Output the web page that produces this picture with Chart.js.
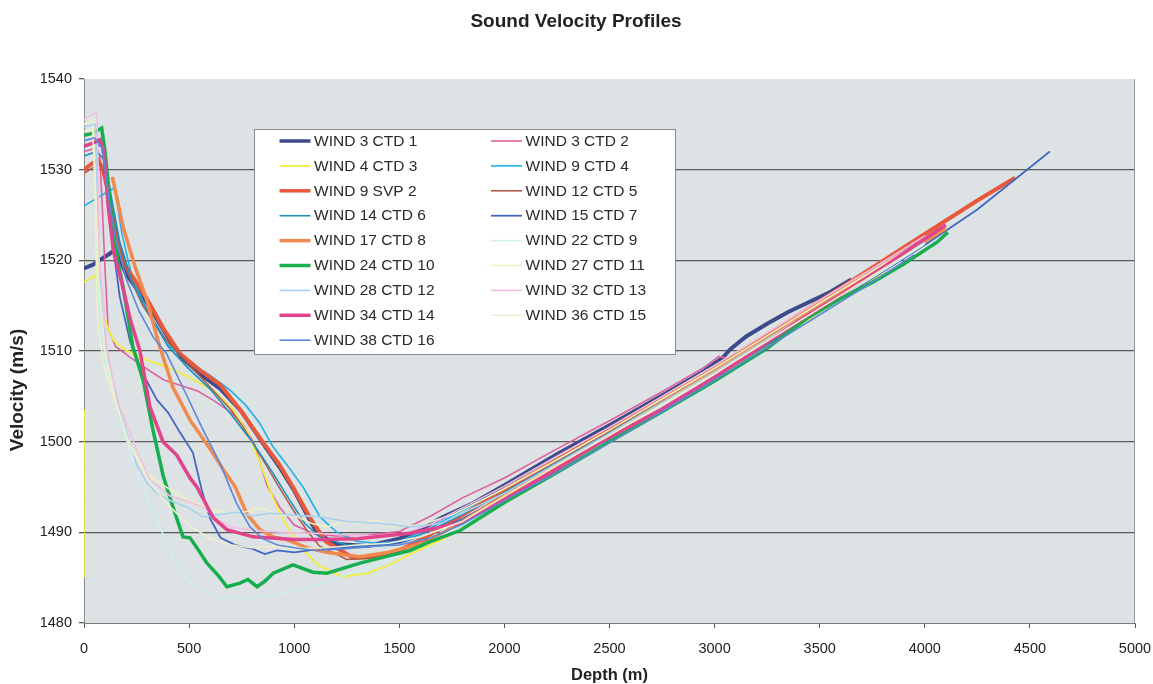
<!DOCTYPE html>
<html><head><meta charset="utf-8">
<script src="https://cdn.jsdelivr.net/npm/chart.js@4.4.1/dist/chart.umd.min.js"></script>
<style>html,body{margin:0;padding:0;background:#fff;} #wrap{position:relative;width:1153px;height:684px;}</style>
</head><body><div id="wrap"><canvas id="c" width="1153" height="684"></canvas></div>
<script>
// ---- data: [depth (m), velocity (m/s)] ----
const chartTitle = 'Sound Velocity Profiles';
const seriesLabels = ['WIND 3 CTD 1','WIND 3 CTD 2','WIND 4 CTD 3','WIND 9 CTD 4','WIND 9 SVP 2','WIND 12 CTD 5','WIND 14 CTD 6','WIND 15 CTD 7','WIND 17 CTD 8','WIND 22 CTD 9','WIND 24 CTD 10','WIND 27 CTD 11','WIND 28 CTD 12','WIND 32 CTD 13','WIND 34 CTD 14','WIND 36 CTD 15','WIND 38 CTD 16'];
const depthTicks = [0,500,1000,1500,2000,2500,3000,3500,4000,4500,5000];
const velocityTicks = [1480,1490,1500,1510,1520,1530,1540];

const w3c1 = [[0,1519.1],[40,1519.5],[80,1520.1],[120,1520.7],[150,1521.2],[200,1518.5],[300,1515.3],[400,1511.5],[460,1509.4],[550,1507.5],[650,1505.8],[750,1503.3],[840,1500.2],[930,1497.2],[1000,1494.6],[1075,1491.3],[1110,1489.9],[1200,1488.7],[1350,1488.5],[1500,1489.3],[1600,1490.3],[1700,1491.6],[1850,1493.2],[2000,1495.2],[2250,1498.6],[2500,1501.8],[2750,1505.1],[2950,1507.8],[3040,1509.3],[3075,1510.2],[3150,1511.6],[3250,1513.0],[3350,1514.3],[3450,1515.4],[3550,1516.5],[3650,1517.9]];
const w3c2 = [[0,1532.0],[60,1532.4],[75,1531.5],[85,1527],[100,1519],[115,1512.5],[150,1510.5],[220,1509.3],[300,1508.0],[380,1506.8],[460,1506.2],[540,1505.6],[620,1504.5],[700,1503.2],[760,1501.8],[810,1499.8],[870,1495.2],[930,1492.8],[1000,1490.8],[1100,1489.8],[1200,1489.6],[1350,1489.7],[1500,1490.1],[1650,1491.8],[1800,1493.8],[2000,1496.0],[2250,1499.2],[2500,1502.3],[2750,1505.5],[2950,1508.2],[3020,1509.4],[3060,1509.2],[3250,1511.6],[3500,1515.2],[3750,1518.8],[4000,1522.5]];
const w4c3 = [[0,1485],[0,1503.5],[0,null],[0,1517.6],[50,1518.3],[65,1517.5],[80,1515.3],[110,1512.8],[140,1511.2],[190,1510.2],[300,1509.0],[400,1508.2],[500,1507.1],[620,1505.6],[700,1503.8],[780,1501.0],[840,1497.5],[900,1493.8],[950,1491.3],[1030,1488.3],[1120,1486.3],[1230,1485.1],[1350,1485.5],[1450,1486.4],[1550,1487.6],[1700,1489.2],[1850,1491.0],[2000,1493.2],[2250,1496.6],[2500,1500.0],[2750,1503.5],[3000,1506.9],[3250,1510.5],[3500,1514.3],[3800,1518.6]];
const w9c4 = [[0,1526.0],[50,1526.7],[100,1527.4],[147,1528.0],[180,1523.0],[230,1518.0],[300,1514.5],[409,1510.5],[500,1508.8],[600,1507.3],[694,1505.7],[770,1504.0],[837,1502.0],[900,1499.4],[970,1497.3],[1042,1495.0],[1123,1491.7],[1203,1490.0],[1300,1489.0],[1400,1488.8],[1500,1489.0],[1650,1490.5],[1800,1492.4],[2000,1494.6],[2250,1497.9],[2500,1501.1],[2750,1504.5],[3000,1507.9],[3250,1511.4],[3500,1515.0],[3750,1518.5],[4000,1522.0]];
const w9s2 = [[0,1530.0],[40,1530.7],[67,1531.1],[90,1530.0],[120,1527.0],[150,1523.0],[200,1519.3],[298,1515.8],[380,1512.4],[457,1509.7],[550,1507.9],[647,1506.3],[740,1503.6],[837,1500.4],[932,1497.4],[994,1495.0],[1075,1491.6],[1150,1489.0],[1280,1487.2],[1400,1487.3],[1500,1488.0],[1650,1489.8],[1800,1491.9],[2000,1494.7],[2250,1498.0],[2500,1501.3],[2750,1504.8],[3000,1508.2],[3250,1511.8],[3500,1515.5],[3750,1519.2],[4000,1522.9],[4250,1526.6],[4430,1529.1]];
const w12c5 = [[0,1529.6],[40,1530.2],[80,1530.6],[110,1528.5],[150,1523.5],[200,1519.0],[280,1515.0],[380,1511.5],[480,1509.0],[600,1506.0],[700,1503.5],[760,1501.5],[852,1498.0],[920,1495.3],[994,1492.5],[1060,1490.2],[1120,1488.5],[1250,1487.0],[1400,1487.2],[1550,1488.3],[1700,1489.9],[2000,1494.2],[2250,1497.5],[2500,1500.8],[2750,1504.2],[3000,1507.6],[3250,1511.2],[3500,1514.8],[3750,1518.3],[4000,1521.9]];
const w14c6 = [[0,1531.5],[60,1532.0],[100,1531.0],[130,1527.0],[170,1522.0],[230,1517.5],[300,1514.5],[400,1510.5],[500,1508.0],[600,1505.8],[700,1503.0],[800,1500.0],[900,1496.5],[980,1493.5],[1050,1491.0],[1120,1489.5],[1250,1488.6],[1400,1488.5],[1500,1488.9],[1650,1490.2],[1800,1492.0],[2000,1494.4],[2250,1497.7],[2500,1501.0],[2750,1504.4],[3000,1507.8],[3250,1511.3],[3500,1514.9],[3750,1518.4],[4100,1523.4]];
const w15c7 = [[0,1532.5],[50,1533.0],[85,1532.5],[105,1529.0],[130,1523.0],[170,1516.0],[220,1511.0],[280,1507.5],[347,1504.6],[400,1503.2],[457,1501.0],[518,1498.8],[560,1494.7],[600,1491.5],[650,1489.4],[720,1488.6],[800,1488.2],[860,1487.6],[918,1488.0],[1000,1487.8],[1100,1488.1],[1250,1488.3],[1400,1488.6],[1500,1488.8],[1650,1489.9],[1800,1491.5],[2000,1493.9],[2250,1497.1],[2500,1500.3],[2750,1503.7],[3000,1507.1],[3250,1510.7],[3500,1514.4],[3750,1518.0],[4000,1521.7],[4250,1525.6],[4595,1532.0]];
const w17c8 = [[135,1529.2],[186,1523.7],[240,1519.5],[300,1515.5],[360,1510.5],[423,1506.0],[504,1502.4],[600,1499.2],[661,1497.0],[720,1495.0],[775,1492.0],[837,1490.3],[900,1489.5],[965,1489.2],[1050,1488.4],[1150,1487.8],[1313,1487.3],[1450,1487.8],[1632,1488.9],[1800,1491.2],[2000,1494.0],[2250,1497.4],[2500,1500.8],[2750,1504.3],[3000,1507.8],[3250,1511.4],[3500,1515.0],[3750,1518.6],[3882,1520.4],[4100,1523.5]];
const w22c9 = [[0,1535.0],[40,1535.4],[50,1530],[60,1521],[80,1512],[120,1507],[171,1502.7],[250,1496.5],[361,1490.6],[430,1486.8],[504,1484.4],[580,1483.4],[647,1482.9],[760,1482.8],[870,1482.9],[980,1483.4],[1089,1484.0],[1230,1485.2],[1375,1486.2],[1500,1487.4],[1650,1489.0],[1800,1490.8],[2000,1493.6],[2250,1497.0],[2500,1500.4],[2750,1503.9],[3000,1507.4],[3250,1511.0],[3500,1514.6],[3750,1518.1],[4000,1521.8]];
const w24c10 = [[0,1533.8],[40,1534.0],[84,1534.6],[100,1532.0],[130,1525.0],[160,1520.0],[186,1517.0],[233,1510.4],[281,1506.8],[328,1501.3],[376,1496.3],[423,1492.8],[471,1489.5],[504,1489.4],[540,1488.2],[585,1486.6],[640,1485.2],[680,1484.0],[742,1484.4],[780,1484.8],[823,1484.0],[860,1484.6],[900,1485.5],[994,1486.4],[1089,1485.6],[1156,1485.5],[1313,1486.6],[1450,1487.4],[1551,1488.0],[1650,1489.0],[1789,1490.2],[2000,1493.3],[2250,1496.6],[2500,1500.0],[2750,1503.3],[3000,1506.7],[3250,1510.3],[3439,1513.6],[3600,1515.8],[3753,1517.6],[3900,1519.6],[4058,1522.0],[4110,1523.1]];
const w27c11 = [[0,1535.0],[45,1535.5],[52,1531],[56,1522],[65,1513],[90,1509],[120,1506.2],[157,1503.8],[233,1499.1],[300,1496.5],[376,1495.2],[490,1493.6],[615,1492.5],[700,1492.0],[775,1492.3],[850,1492.7],[930,1491.8],[1000,1491.9],[1080,1491.0],[1156,1490.6],[1230,1491.2],[1313,1491.0],[1400,1491.3],[1470,1490.6],[1600,1490.8],[1750,1491.9],[2000,1494.8],[2250,1498.0],[2500,1501.3],[2750,1504.7],[3000,1508.1],[3250,1511.7],[3500,1515.3],[3750,1518.8],[4000,1522.4]];
const w28c12 = [[0,1534.7],[55,1535.0],[60,1530],[70,1520],[90,1513],[115,1509],[138,1506.8],[170,1503.5],[204,1501.0],[250,1497.5],[300,1495.4],[347,1494.3],[420,1493.4],[500,1492.7],[566,1491.7],[650,1492.0],[728,1492.2],[800,1491.8],[885,1492.1],[1000,1491.9],[1123,1491.7],[1250,1491.2],[1400,1491.0],[1551,1490.6],[1700,1491.0],[2000,1494.3],[2250,1497.6],[2500,1500.9],[2750,1504.3],[3000,1507.7],[3250,1511.3],[3500,1514.9],[3750,1518.4],[4000,1522.0]];
const w32c13 = [[0,1535.5],[30,1536.0],[62,1536.3],[67,1530],[72,1520],[90,1516.5],[109,1510.4],[140,1506.5],[171,1503.8],[219,1501.0],[260,1498.5],[314,1495.8],[409,1494.0],[480,1493.5],[566,1492.8],[630,1491.5],[694,1490.6],[800,1490.2],[950,1490.0],[1100,1489.9],[1250,1489.7],[1400,1489.6],[1500,1489.7],[1650,1490.9],[1800,1492.7],[2000,1495.1],[2250,1498.4],[2500,1501.6],[2750,1505.0],[3000,1508.4],[3250,1512.0],[3500,1515.6],[3750,1519.1],[4000,1522.7]];
const w34c14 = [[0,1532.6],[40,1532.9],[76,1533.3],[95,1532.0],[115,1526.0],[140,1521.0],[180,1517.5],[220,1513.5],[266,1510.0],[314,1503.8],[376,1500.0],[442,1498.5],[504,1496.0],[537,1495.0],[615,1491.6],[680,1490.3],[804,1489.5],[1000,1489.2],[1123,1489.2],[1300,1489.3],[1551,1489.9],[1789,1491.0],[2000,1493.6],[2250,1497.0],[2455,1499.9],[2750,1503.6],[3000,1507.1],[3183,1509.9],[3400,1513.3],[3600,1516.2],[3800,1519.2],[3963,1521.8],[4100,1523.9]];
const w36c15 = [[0,1534.2],[40,1534.5],[55,1528],[70,1518],[100,1510],[150,1504.5],[220,1499.5],[300,1496],[400,1493],[500,1490.8],[600,1489.3],[700,1488.6],[800,1488.3],[900,1488.5],[1000,1488.2],[1150,1488.3],[1300,1488.6],[1450,1488.8],[1600,1489.5],[1800,1491.2],[2000,1494.0],[2250,1497.4],[2500,1500.7],[2750,1504.1],[3000,1507.5],[3250,1511.1],[3500,1514.7],[3750,1518.3],[4000,1521.9]];
const w38c16 = [[0,1533.2],[50,1533.5],[85,1532.5],[100,1530.0],[120,1526.5],[150,1522.5],[200,1518.0],[260,1514.5],[330,1511.5],[393,1509.7],[470,1506.0],[560,1501.6],[647,1497.6],[726,1493.2],[790,1490.6],[850,1489.3],[920,1488.6],[1000,1488.3],[1100,1488.0],[1250,1488.2],[1400,1488.5],[1500,1488.6],[1650,1489.4],[1800,1490.9],[2000,1493.5],[2250,1496.6],[2500,1499.9],[2750,1503.3],[3000,1506.8],[3250,1510.4],[3500,1514.0],[3750,1517.6],[3950,1520.6]];

const seriesData = [w3c1,w3c2,w4c3,w9c4,w9s2,w12c5,w14c6,w15c7,w17c8,w22c9,w24c10,w27c11,w28c12,w32c13,w34c14,w36c15,w38c16];

// ---- styles ----
const seriesColors = ['#3d4a8c','#e0609c','#f2ee3c','#20b2e8','#e8583a','#b45a46','#2090c0','#4468c0','#f08a4e','#cdf0ee','#16ae4e','#edf2c0','#a6d2f0','#f2bfe2','#e0448a','#eeefcf','#5c88d8'];
const seriesWidths = [4,1.6,1.8,1.6,4,1.6,1.6,1.8,3.5,1.6,3.5,1.6,1.6,1.6,3.5,1.6,1.6];
const FONT = '"Liberation Sans", Arial, Helvetica, sans-serif';

const datasets = seriesData.map((s, i) => ({
  label: seriesLabels[i],
  data: s.map(p => ({x: p[0], y: p[1]})),
  borderColor: seriesColors[i],
  backgroundColor: seriesColors[i],
  borderWidth: seriesWidths[i],
  pointRadius: 0,
  tension: 0,
  spanGaps: false,
  fill: false,
  order: 100 - i
}));

const decor = {
  id: 'decor',
  beforeDraw(chart) {
    const {ctx, chartArea: a} = chart;
    ctx.save();
    ctx.fillStyle = '#dde2e5';
    ctx.fillRect(a.left, a.top, a.right - a.left, a.bottom - a.top);
    ctx.restore();
  },
  afterDraw(chart) {
    const {ctx, chartArea: a} = chart;
    ctx.save();
    // chart title
    ctx.font = 'bold 19px ' + FONT; ctx.fillStyle = '#222'; ctx.textAlign = 'center'; ctx.textBaseline = 'middle';
    ctx.fillText(chartTitle, 576, 22);
    // right border
    ctx.strokeStyle = '#9a9a9a'; ctx.lineWidth = 1;
    ctx.beginPath(); ctx.moveTo(Math.round(a.right) - 0.5, a.top); ctx.lineTo(Math.round(a.right) - 0.5, a.bottom); ctx.stroke();
    // legend
    const bx = 254.5, by = 129.5, bw = 421, bh = 225;
    ctx.fillStyle = '#ffffff'; ctx.fillRect(bx, by, bw, bh);
    ctx.strokeStyle = '#8a8a8a'; ctx.strokeRect(bx, by, bw, bh);
    ctx.font = '15.5px ' + FONT; ctx.textBaseline = 'middle'; ctx.textAlign = 'left';
    seriesLabels.forEach((lab, i) => {
      const col = i % 2, row = Math.floor(i / 2);
      const y = 141 + row * 24.9;
      const x0 = col ? 491 : 279.5;
      ctx.strokeStyle = seriesColors[i]; ctx.lineWidth = Math.min(seriesWidths[i], 3.5);
      ctx.beginPath(); ctx.moveTo(x0, y); ctx.lineTo(x0 + 31, y); ctx.stroke();
      ctx.fillStyle = '#2a2a2a';
      ctx.fillText(lab, x0 + 34.5, y + 0.5);
    });
    // y-axis title
    ctx.translate(18, 390); ctx.rotate(-Math.PI / 2);
    ctx.font = 'bold 19px ' + FONT; ctx.textAlign = 'center'; ctx.fillStyle = '#222';
    ctx.fillText('Velocity (m/s)', 0, 0);
    ctx.restore();
  }
};

new Chart(document.getElementById('c'), {
  type: 'line',
  data: { datasets },
  options: {
    responsive: false, animation: false, devicePixelRatio: 1,
    layout: { padding: { top: 79, right: 18, bottom: 0, left: 0 } },
    plugins: {
      legend: { display: false },
      tooltip: { enabled: false },
      title: { display: false }
    },
    scales: {
      x: {
        type: 'linear', min: 0, max: 5000,
        afterBuildTicks: s => { s.ticks = depthTicks.map(v => ({value: v})); },
        afterFit: s => { s.height = 61; s.paddingLeft = 0; s.paddingRight = 0; },
        grid: { drawOnChartArea: false, drawTicks: true, tickLength: 5, tickColor: '#555' },
        border: { display: true, color: '#7a7a7a', width: 1 },
        ticks: { color: '#222', padding: 12, maxRotation: 0, font: { family: FONT, size: 14.5 },
          callback: v => String(v) },
        title: { display: true, text: 'Depth (m)', color: '#222', padding: { top: 0, bottom: 0 },
          font: { family: FONT, size: 16.5, weight: 'bold', lineHeight: 1 } }
      },
      y: {
        type: 'linear', min: 1480, max: 1540,
        afterBuildTicks: s => { s.ticks = velocityTicks.map(v => ({value: v})); },
        afterFit: s => { s.width = 84; s.paddingTop = 0; s.paddingBottom = 0; },
        grid: { drawOnChartArea: true, drawTicks: true, tickLength: 5, tickColor: '#555', lineWidth: 1.3,
          color: c => (c.tick && (c.tick.value === 1540 || c.tick.value === 1480)) ? 'rgba(0,0,0,0)' : '#5a5a5a' },
        border: { display: true, color: '#8a8a8a', width: 1 },
        ticks: { color: '#222', padding: 7, font: { family: FONT, size: 14.5 }, callback: v => String(v) },
        title: { display: false }
      }
    }
  },
  plugins: [decor]
});
</script></body></html>
